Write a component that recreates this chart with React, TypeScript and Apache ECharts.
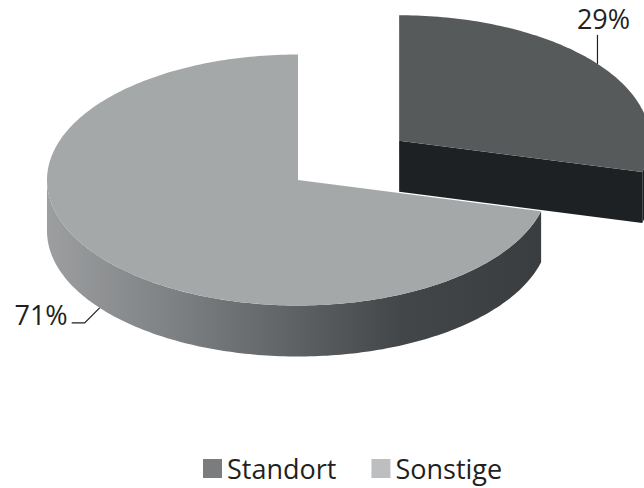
import React, { useEffect, useRef } from "react";
import * as echarts from "echarts";

const categories = ["Standort", "Sonstige"];
const values = [29, 71];
const legendColors = ["#7b7c7e", "#bdbec0"];
const topColors = ["#575a5b", "#a5a8a9"];
const wallColors = ["#1e2124", "#3c3f41"];
const explodeFrac = [0.51, 0];

const W = 644;
const H = 488;
const CX = 298;
const CY = 180;
const RX = 251;
const RY = 125.5;
const DEPTH = 51;
const FONT = "27px 'Open Sans', sans-serif";

export default function App() {
  const ref = useRef<HTMLDivElement>(null);
  useEffect(() => {
    const chart = echarts.init(ref.current!, null, { renderer: "svg" });
    const total = values.reduce((a, b) => a + b, 0);
    const starts = values.map((_, i) => values.slice(0, i).reduce((a, b) => a + b, 0));
    const deg = Math.PI / 180;
    const pt = (cx: number, cy: number, a: number) => [cx + RX * Math.sin(a), cy - RY * Math.cos(a)];
    const arc = (cx: number, cy: number, a0: number, a1: number, dy = 0) => {
      const n = Math.max(2, Math.ceil(Math.abs(a1 - a0) / deg));
      const pts: number[][] = [];
      for (let i = 0; i <= n; i++) {
        const a = a0 + ((a1 - a0) * i) / n;
        const p = pt(cx, cy, a);
        pts.push([p[0], p[1] + dy]);
      }
      return pts;
    };
    const sideGradient = new echarts.graphic.LinearGradient(
      48, 0, 549, 0,
      [
        { offset: 0, color: "#9c9ea0" },
        { offset: 0.25, color: "#7e8183" },
        { offset: 0.507, color: "#5d6062" },
        { offset: 0.708, color: "#434648" },
        { offset: 1, color: "#3a3d3f" },
      ],
      true
    );

    const makeRender = (idx: number) => (params: any, api: any) => {
      const v = api.value(0) as number;
      const a0 = (starts[idx] / total) * 2 * Math.PI;
      const a1 = a0 + (v / total) * 2 * Math.PI;
      const mid = (a0 + a1) / 2;
      const cx = CX + RX * explodeFrac[idx] * Math.sin(mid);
      const cy = CY - RY * explodeFrac[idx] * Math.cos(mid);
      const children: any[] = [];
      const wall = (a: number) => {
        const e = pt(cx, cy, a);
        return {
          type: "polygon",
          shape: { points: [[cx, cy], e, [e[0], e[1] + DEPTH], [cx, cy + DEPTH]] },
          style: { fill: wallColors[idx] },
        };
      };
      if (Math.sin(a0) < -1e-6) children.push(wall(a0));
      if (Math.sin(a1) > 1e-6) children.push(wall(a1));
      const s0 = Math.max(a0, Math.PI / 2);
      const s1 = Math.min(a1, (3 * Math.PI) / 2);
      if (s1 > s0) {
        const topArc = arc(cx, cy, s0, s1);
        const botArc = arc(cx, cy, s1, s0, DEPTH);
        children.push({
          type: "polygon",
          shape: { points: topArc.concat(botArc) },
          style: { fill: idx === 1 ? sideGradient : wallColors[idx] },
        });
      }
      children.push({
        type: "polygon",
        shape: { points: [[cx, cy]].concat(arc(cx, cy, a0, a1)) },
        style: { fill: topColors[idx] },
      });
      const pctText = Math.round((v / total) * 100) + "%";
      if (Math.sin(mid) > 0) {
        const p = pt(cx, cy, mid);
        children.push({
          type: "polyline",
          shape: { points: [[p[0], p[1]], [p[0], p[1] - 29]] },
          style: { stroke: "#231f20", lineWidth: 1.2, fill: null },
        });
        children.push({
          type: "text",
          style: {
            text: pctText, x: p[0] + 6, y: p[1] - 45,
            align: "center", verticalAlign: "middle", font: FONT, fill: "#231f20",
          },
        });
      } else {
        const p = pt(cx, cy, mid);
        const q = [p[0], p[1] + DEPTH];
        children.push({
          type: "polyline",
          shape: { points: [q, [q[0] - 15, q[1] + 15], [q[0] - 28, q[1] + 15]] },
          style: { stroke: "#231f20", lineWidth: 1.2, fill: null },
        });
        children.push({
          type: "text",
          style: {
            text: pctText, x: q[0] - 32, y: q[1] + 7,
            align: "right", verticalAlign: "middle", font: FONT, fill: "#231f20",
          },
        });
      }
      return { type: "group", children };
    };

    chart.setOption({
      animation: false,
      backgroundColor: "#ffffff",
      legend: {
        left: 203,
        top: 455,
        padding: 0,
        itemWidth: 19,
        itemHeight: 19,
        itemGap: 35,
        icon: "rect",
        selectedMode: false,
        textStyle: {
          fontSize: 27,
          lineHeight: 27,
          fontFamily: "'Open Sans', sans-serif",
          color: "#231f20",
        },
        data: categories.map((c, i) => ({ name: c, itemStyle: { color: legendColors[i] } })),
      },
      series: categories.map((c, i) => ({
        type: "custom",
        name: c,
        coordinateSystem: "none",
        itemStyle: { color: legendColors[i] },
        silent: true,
        data: [[values[i]]],
        renderItem: makeRender(i),
      })),
    });
    return () => chart.dispose();
  }, []);
  return (
    <div
      ref={ref}
      style={{ position: "fixed", left: 0, top: 0, width: W, height: H, background: "#fff" }}
    />
  );
}
